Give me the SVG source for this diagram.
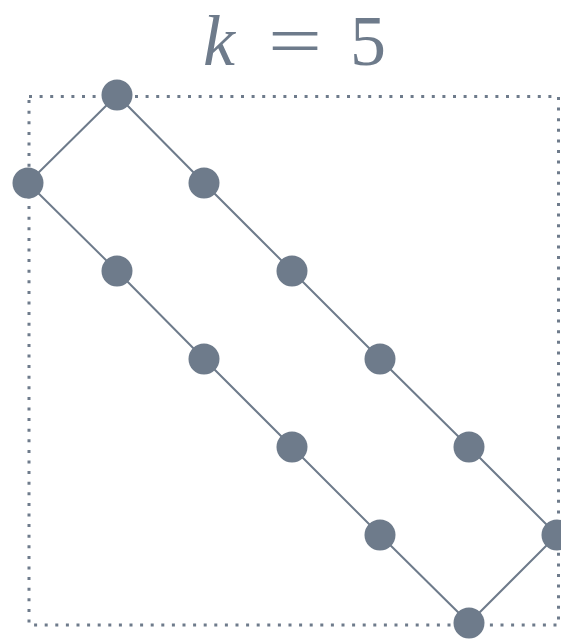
<svg xmlns="http://www.w3.org/2000/svg" width="561" height="639" viewBox="0 0 561 639">
<style>
.n{fill:#6e7b8b}
.e{stroke:#6e7b8b;stroke-width:2;fill:none}
.t{font-family:"Liberation Serif","DejaVu Serif",serif;fill:#6e7b8b;font-size:72px}
</style>
<rect width="561" height="639" fill="#fff"/>
<rect x="29" y="96.5" width="529.5" height="528.5" fill="none" stroke="#6e7b8b" stroke-width="3" stroke-dasharray="3 7.6"/>
<g id="title">
<text class="t" x="203" y="65" font-style="italic">k</text>
<text class="t" x="268" y="65" textLength="54" lengthAdjust="spacingAndGlyphs">=</text>
<text class="t" x="350" y="65">5</text>
</g>
<g id="connectors" class="e">
<polyline points="28,183 117,95 204,183 292,271 380,359 469,447 557,535 469,623 380,535 292,447 204,359 117,271 28,183"/>
</g>
<g id="nodes">
<circle id="n1" class="n" cx="117" cy="95" r="15.5"/>
<circle id="n2" class="n" cx="28" cy="183" r="15.5"/>
<circle id="n3" class="n" cx="204" cy="183" r="15.5"/>
<circle id="n4" class="n" cx="117" cy="271" r="15.5"/>
<circle id="n5" class="n" cx="292" cy="271" r="15.5"/>
<circle id="n6" class="n" cx="204" cy="359" r="15.5"/>
<circle id="n7" class="n" cx="380" cy="359" r="15.5"/>
<circle id="n8" class="n" cx="292" cy="447" r="15.5"/>
<circle id="n9" class="n" cx="469" cy="447" r="15.5"/>
<circle id="n10" class="n" cx="380" cy="535" r="15.5"/>
<circle id="n11" class="n" cx="557" cy="535" r="15.5"/>
<circle id="n12" class="n" cx="469" cy="623" r="15.5"/>
</g>
</svg>
